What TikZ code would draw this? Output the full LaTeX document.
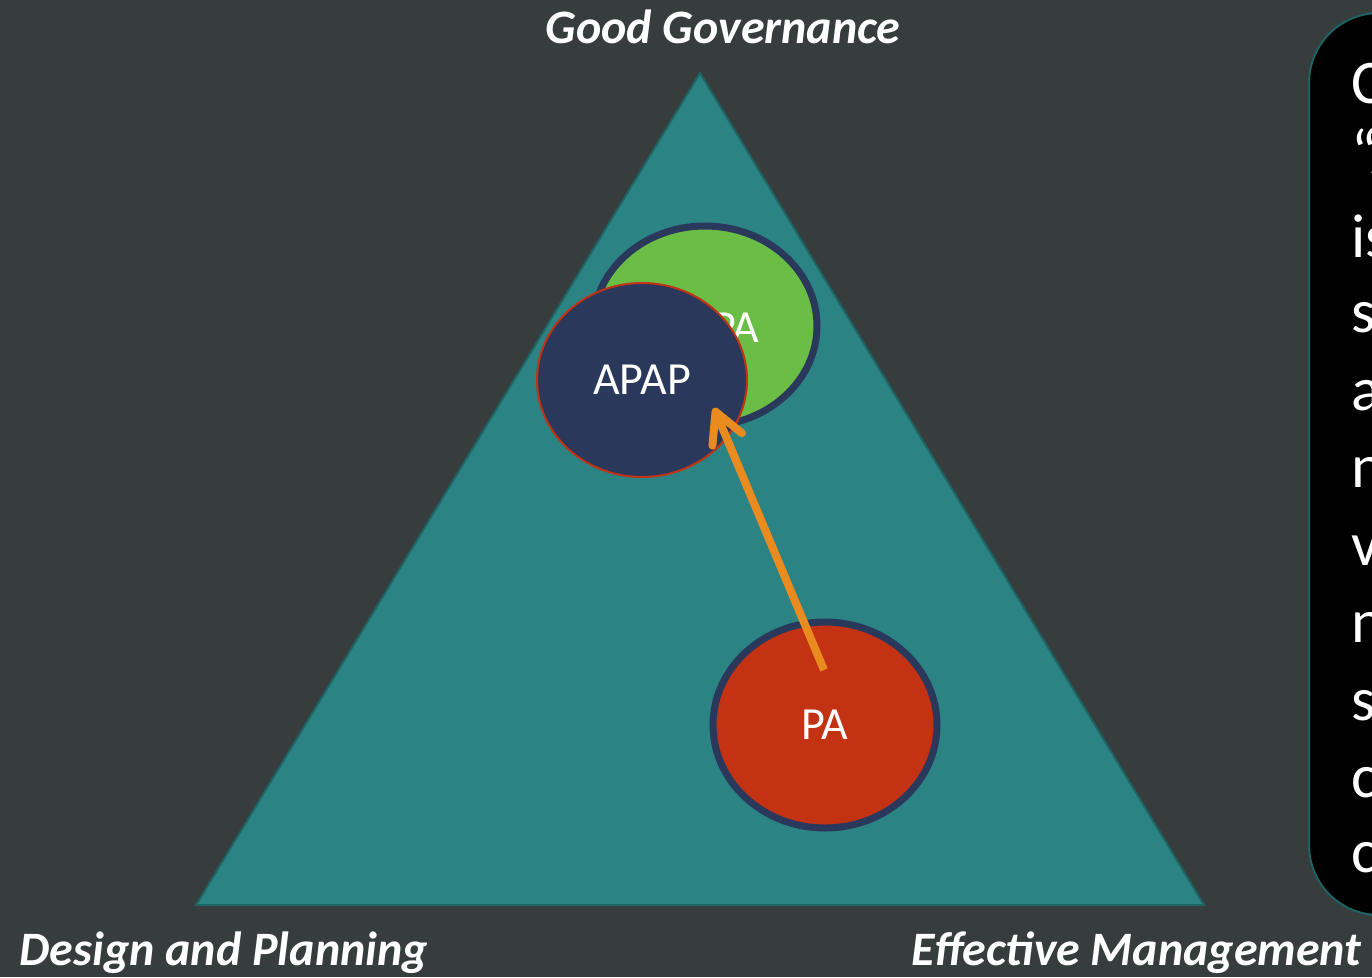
\documentclass[tikz,border=0pt]{standalone}
\usepackage{fontspec}
\setmainfont{Carlito}
\usetikzlibrary{shapes.geometric,arrows.meta}
\definecolor{slidebg}{RGB}{54,61,60}
\definecolor{teal}{RGB}{44,131,131}
\definecolor{tealedge}{RGB}{30,100,100}
\definecolor{navy}{RGB}{41,56,91}
\definecolor{leafgreen}{RGB}{106,189,69}
\definecolor{brickred}{RGB}{196,50,20}
\definecolor{arroworange}{RGB}{234,139,32}

\begin{document}
\begin{tikzpicture}[x=1pt,y=-1pt,
  corner/.style={text=white,font=\fontsize{48}{48}\selectfont\bfseries\itshape},
  zone/.style={ellipse,inner sep=0pt,text=white,font=\fontsize{46}{46}\selectfont},
  boxline/.style={text=white,anchor=base west,inner sep=0pt,font=\fontsize{62}{62}\selectfont}]
\clip (0,0) rectangle (1372,977);
\fill[slidebg] (0,0) rectangle (1372,977);
% triangle
\draw[tealedge,fill=teal,line width=2pt] (700,73) -- (1204,905) -- (196,905) -- cycle;
\node[corner,anchor=base] (top) at (723,43) {Good Governance};
\node[corner,anchor=base west] (left) at (16,965) {Design and Planning};
\node[corner,anchor=base east] (right) at (1365,965) {Effective Management};
% zones
\node[zone,draw=navy,fill=leafgreen,line width=7pt,minimum width=224pt,minimum height=200pt] (good) at (705,326) {};
\node[zone] (goodlabel) at (736,328) {PA};
\node[zone,draw=brickred,fill=navy,line width=2pt,minimum width=210pt,minimum height=194pt] (apap) at (642,380) {APAP};
\node[zone,draw=navy,fill=brickred,line width=7pt,minimum width=224pt,minimum height=206pt] (pa) at (825,725) {PA};
% move
\coordinate (from) at (824,670);
\coordinate (to) at (714,408);
\draw[arroworange,line width=8pt,-{Straight Barb[length=30pt,width=32pt,round]}] (from) -- (to);
% side box
\draw[tealedge,fill=black,line width=2pt,rounded corners=70pt] (1309,13) rectangle (1440,915);
\foreach \y/\t in {103/C,173/“A,257/is,332/s,410/a,487/n,565/v,642/n,720/s,797/c,872/c}
  \node[boxline] at (1351,\y) {\t};
\end{tikzpicture}
\end{document}
